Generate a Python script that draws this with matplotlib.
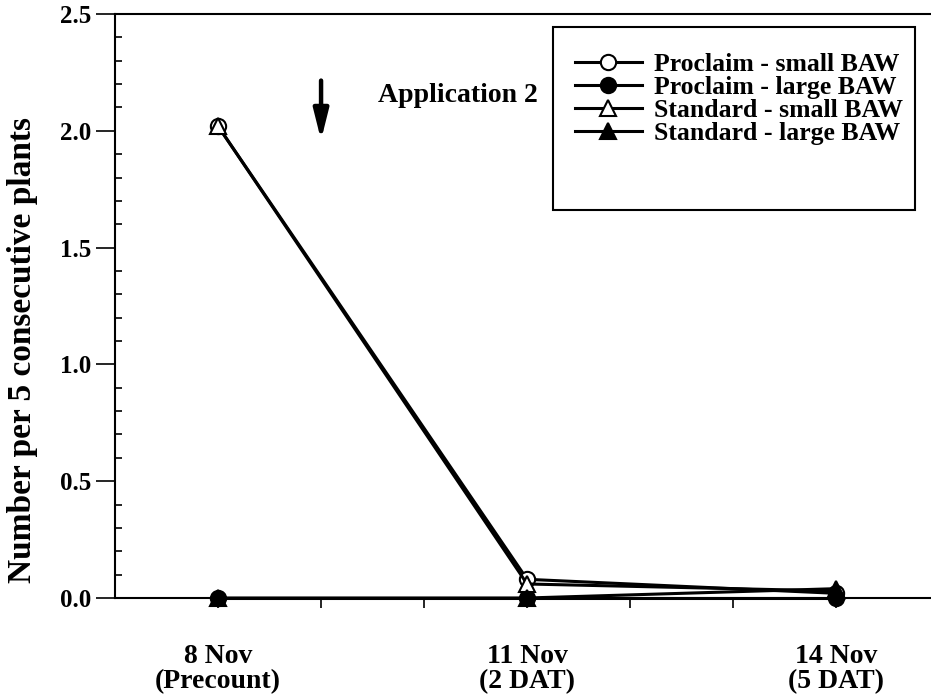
import numpy as np
import matplotlib.pyplot as plt
from matplotlib.ticker import MultipleLocator, FixedLocator
from matplotlib.patches import Rectangle

plt.rcParams['font.family'] = ['Liberation Serif', 'DejaVu Serif']
plt.rcParams['font.weight'] = 'bold'

days = [8, 11, 14]
day_labels = ['8 Nov\n(Precount)', '11 Nov\n(2 DAT)', '14 Nov\n(5 DAT)']

proclaim_small = [2.02, 0.08, 0.02]
proclaim_large = [0.0, 0.0, 0.0]
standard_small = [2.02, 0.06, 0.03]
standard_large = [0.0, 0.0, 0.04]

series = [
    ('Proclaim - small BAW', proclaim_small, 'o', 'white'),
    ('Proclaim - large BAW', proclaim_large, 'o', 'black'),
    ('Standard - small BAW', standard_small, '^', 'white'),
    ('Standard - large BAW', standard_large, '^', 'black'),
]

fig = plt.figure(figsize=(9.31, 6.98), dpi=100)
ax = fig.add_axes([115 / 931, 1 - 598 / 698, 816 / 931, 584 / 698])

for label, vals, m, fc in series:
    ax.plot(days, vals, '-', color='black', linewidth=2.2, marker=m,
            markersize=11, markerfacecolor=fc, markeredgecolor='black',
            markeredgewidth=1.5, label=label, clip_on=False)

ax.set_xlim(7, 14.92)
ax.set_ylim(0, 2.5)

ax.set_xticks(days)
ax.set_xticklabels(day_labels, fontsize=20, fontweight='bold', linespacing=1.0)
ax.xaxis.set_minor_locator(FixedLocator([9, 10, 12, 13]))
ax.tick_params(axis='x', which='both', direction='out', length=7, width=1.2, pad=26)

ax.yaxis.set_major_locator(MultipleLocator(0.5))
ax.yaxis.set_minor_locator(MultipleLocator(0.1))
ax.yaxis.set_major_formatter(plt.FuncFormatter(lambda v, p: f'{v:.1f}'))
ax.tick_params(axis='y', which='major', direction='out', length=14, width=1.2, pad=3,
               labelsize=18)
ax.tick_params(axis='y', which='minor', direction='in', length=5, width=1.2)
for t in ax.get_yticklabels():
    t.set_fontweight('bold')

ax.set_ylabel('Number per 5 consecutive plants', fontsize=24, fontweight='bold')
ax.yaxis.set_label_coords(-0.094, 0.425)

ax.spines['right'].set_visible(False)
for s in ['left', 'bottom', 'top']:
    ax.spines[s].set_linewidth(1.5)

ax.annotate('', xy=(9.0, 1.96), xytext=(9.0, 2.215),
            arrowprops=dict(arrowstyle='-|>,head_length=1.8,head_width=0.45',
                            color='black', lw=3.2, shrinkA=0, shrinkB=0))
ax.text(9.55, 2.153, 'Application 2', fontsize=20, fontweight='bold', va='center')

leg = ax.legend(loc='upper left', bbox_to_anchor=(562 / 931, 1 - 40 / 698),
                bbox_transform=fig.transFigure, fontsize=18.5,
                frameon=False, handlelength=2.6, borderpad=0,
                labelspacing=0.0, handletextpad=0.5)
for t in leg.get_texts():
    t.set_fontweight('bold')

fig.patches.append(Rectangle((553 / 931, 1 - 210 / 698), 362 / 931, 183 / 698,
                             transform=fig.transFigure, fill=False,
                             edgecolor='black', linewidth=1.5))

fig.savefig('out.png', dpi=100)
